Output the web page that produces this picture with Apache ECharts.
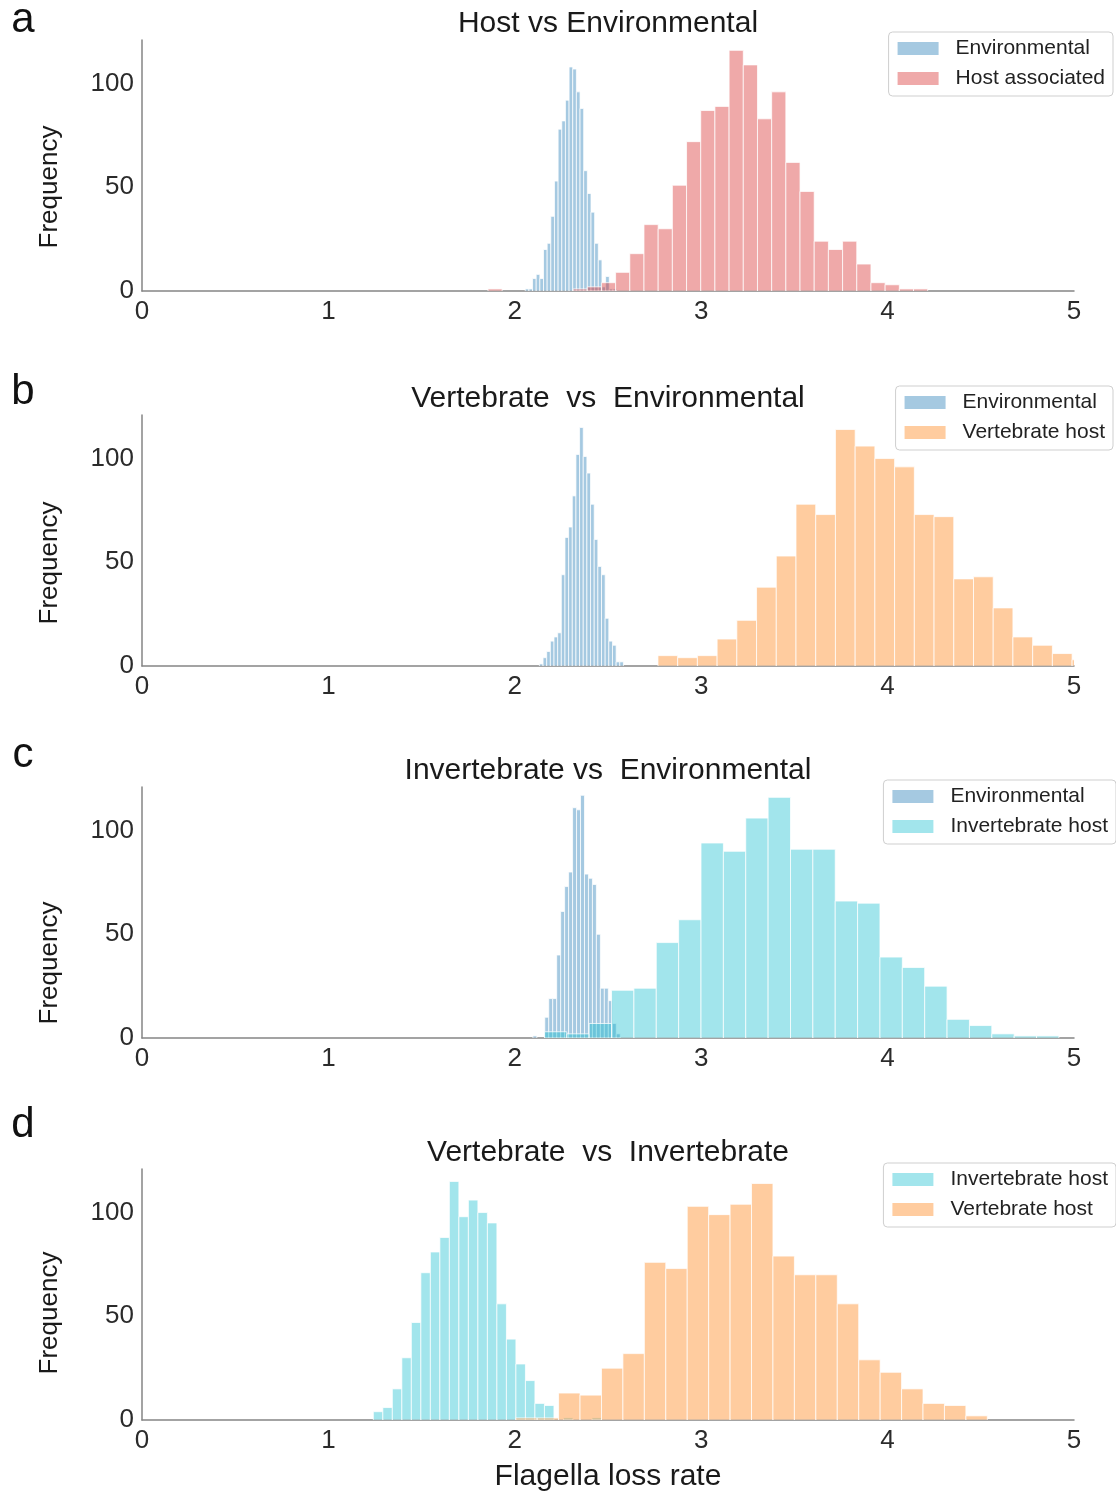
<!DOCTYPE html>
<html>
<head>
<meta charset="utf-8">
<script src="https://cdn.jsdelivr.net/npm/echarts@6/dist/echarts.min.js"></script>
<style>
  html, body { margin: 0; padding: 0; background: #fff; }
  #chart { width: 1116px; height: 1495px; }
</style>
</head>
<body>
<div id="chart"></div>
<script>
// histogram counts, one array per series
// bin start / bin width come from where the bars sit on the x axis
var envAStart = 2.056, envABin = 0.0196
var envA = [1, 1, 6, 8, 6, 20, 23, 36, 53, 78, 82, 92, 108, 107, 96, 88, 58, 47, 38, 23, 15, 2, 7, 1, 1]
var hostAStart = 1.856, hostABin = 0.0761
var hostA = [1, 0, 0, 0, 0, 0, 1, 2, 4, 9, 18, 32, 30, 51, 72, 87, 89, 116, 109, 83, 96, 62, 48, 24, 20, 24, 13, 4, 3, 1, 1]

var envBStart = 2.132, envBBin = 0.0196
var envB = [1, 4, 7, 12, 14, 16, 44, 62, 67, 82, 102, 115, 101, 93, 78, 61, 48, 44, 23, 12, 10, 2, 2]
var vertBStart = 2.768, vertBBin = 0.1058
var vertB = [5, 4, 5, 13, 22, 38, 53, 78, 73, 114, 106, 100, 96, 73, 72, 42, 43, 28, 14, 10, 6, 3]

var envCStart = 2.097, envCBin = 0.0213
var envC = [1, 0, 0, 10, 19, 19, 40, 61, 73, 80, 111, 110, 117, 79, 77, 74, 50, 24, 24, 18, 7, 2]
var invCStart = 2.159, invCBin = 0.12
var invC = [3, 2, 7, 23, 24, 46, 57, 94, 90, 106, 116, 91, 91, 66, 65, 39, 34, 25, 9, 6, 2, 1, 1]

var invDStart = 1.241, invDBin = 0.051
var invD = [4, 6, 15, 30, 47, 71, 81, 88, 115, 98, 106, 100, 95, 56, 39, 27, 19, 8, 7, 0, 1, 0, 0, 1]
var vertDStart = 2.005, vertDBin = 0.115
var vertD = [1, 1, 13, 12, 25, 32, 76, 73, 103, 99, 104, 114, 79, 70, 70, 56, 29, 23, 15, 8, 7, 2]

var titles = ['Host vs Environmental', 'Vertebrate  vs  Environmental', 'Invertebrate vs  Environmental', 'Vertebrate  vs  Invertebrate']
var panelLetters = ['a', 'b', 'c', 'd']
var legendNames = [
  ['Environmental', 'Host associated'],
  ['Environmental', 'Vertebrate host'],
  ['Environmental', 'Invertebrate host'],
  ['Invertebrate host', 'Vertebrate host']
]

var BLUE = 'rgba(31,119,180,0.4)'
var RED = 'rgba(214,39,40,0.4)'
var ORANGE = 'rgba(255,127,14,0.4)'
var CYAN = 'rgba(23,190,207,0.4)'

var FONT = '"Liberation Sans", Arial, sans-serif'
var gridTops = [40, 415, 787, 1169]
var gridH = 251
var yMax = 121

function toBins (start, width, counts) {
  var out = []
  counts.forEach(function (c, i) {
    if (c > 0) out.push([start + i * width, start + (i + 1) * width, c])
  })
  return out
}

function renderHist (params, api) {
  var p0 = api.coord([api.value(0), api.value(2)])
  var p1 = api.coord([api.value(1), 0])
  return {
    type: 'rect',
    shape: { x: p0[0], y: p0[1], width: p1[0] - p0[0], height: p1[1] - p0[1] },
    style: { fill: api.visual('color'), stroke: 'rgba(255,255,255,0.75)', lineWidth: 1 }
  }
}

function histSeries (name, idx, color, data) {
  return {
    type: 'custom',
    name: name,
    xAxisIndex: idx,
    yAxisIndex: idx,
    clip: true,
    renderItem: renderHist,
    encode: { x: [0, 1], y: 2 },
    itemStyle: { color: color },
    data: data
  }
}

var grids = [], xAxes = [], yAxes = [], titleList = [], legends = [], graphics = []
var freqCenters = [187, 563, 963, 1313]
var letterCenters = [20, 392, 755, 1125]

for (var i = 0; i < 4; i++) {
  grids.push({ left: 142, width: 932, top: gridTops[i], height: gridH })
  xAxes.push({
    type: 'value', gridIndex: i, min: 0, max: 5, interval: 1,
    axisLine: { show: true, onZero: false, lineStyle: { color: '#858585', width: 1.5 } },
    axisTick: { show: false },
    splitLine: { show: false },
    axisLabel: { fontSize: 26, color: '#2b2b2b', fontFamily: FONT, margin: 8 },
    name: i === 3 ? 'Flagella loss rate' : '',
    nameLocation: 'middle',
    nameGap: 42,
    nameTextStyle: { fontSize: 30, color: '#1a1a1a', fontFamily: FONT }
  })
  yAxes.push({
    type: 'value', gridIndex: i, min: 0, max: yMax, interval: 50,
    axisLine: { show: true, lineStyle: { color: '#858585', width: 1.5 } },
    axisTick: { show: false },
    splitLine: { show: false },
    axisLabel: { fontSize: 26, color: '#2b2b2b', fontFamily: FONT, margin: 8, showMaxLabel: false }
  })
  titleList.push({
    text: titles[i],
    left: 608, top: gridTops[i] - 31,
    textAlign: 'center',
    padding: 0,
    textStyle: { fontSize: 30, fontWeight: 'normal', color: '#1a1a1a', fontFamily: FONT }
  })
  graphics.push({
    type: 'text', x: 50, y: freqCenters[i], rotation: Math.PI / 2,
    style: { text: 'Frequency', font: '26px ' + FONT, fill: '#1a1a1a', textAlign: 'center', textVerticalAlign: 'middle' }
  })
  graphics.push({
    type: 'text', x: 23, y: letterCenters[i],
    style: { text: panelLetters[i], font: '42px ' + FONT, fill: '#111', textAlign: 'center', textVerticalAlign: 'middle' }
  })
}

var legendBoxes = [
  { right: 3, top: 32 },
  { right: 3, top: 386 },
  { right: 0, top: 780 },
  { right: 0, top: 1163 }
]
legendBoxes.forEach(function (b, i) {
  legends.push({
    data: legendNames[i],
    orient: 'vertical',
    right: b.right, top: b.top,
    icon: 'rect',
    itemWidth: 41, itemHeight: 13, itemGap: 9,
    padding: [6, 8, 7, 9],
    borderColor: '#cfcfcf', borderWidth: 1, borderRadius: 4,
    backgroundColor: '#fff',
    selectedMode: false,
    textStyle: { fontSize: 21, color: '#222', fontFamily: FONT, lineHeight: 21, padding: [0, 0, 0, 12] }
  })
})

var series = [
  histSeries('Environmental', 0, BLUE, toBins(envAStart, envABin, envA)),
  histSeries('Host associated', 0, RED, toBins(hostAStart, hostABin, hostA)),
  histSeries('Environmental', 1, BLUE, toBins(envBStart, envBBin, envB)),
  histSeries('Vertebrate host', 1, ORANGE, toBins(vertBStart, vertBBin, vertB)),
  histSeries('Environmental', 2, BLUE, toBins(envCStart, envCBin, envC)),
  histSeries('Invertebrate host', 2, CYAN, toBins(invCStart, invCBin, invC)),
  histSeries('Invertebrate host', 3, CYAN, toBins(invDStart, invDBin, invD)),
  histSeries('Vertebrate host', 3, ORANGE, toBins(vertDStart, vertDBin, vertD))
]

var myChart = echarts.init(document.getElementById('chart'), null, { renderer: 'canvas' })
myChart.setOption({
  animation: false,
  backgroundColor: '#fff',
  title: titleList,
  legend: legends,
  grid: grids,
  xAxis: xAxes,
  yAxis: yAxes,
  series: series,
  graphic: graphics
})
window.addEventListener('resize', function () {
  myChart.resize()
})
</script>
</body>
</html>
